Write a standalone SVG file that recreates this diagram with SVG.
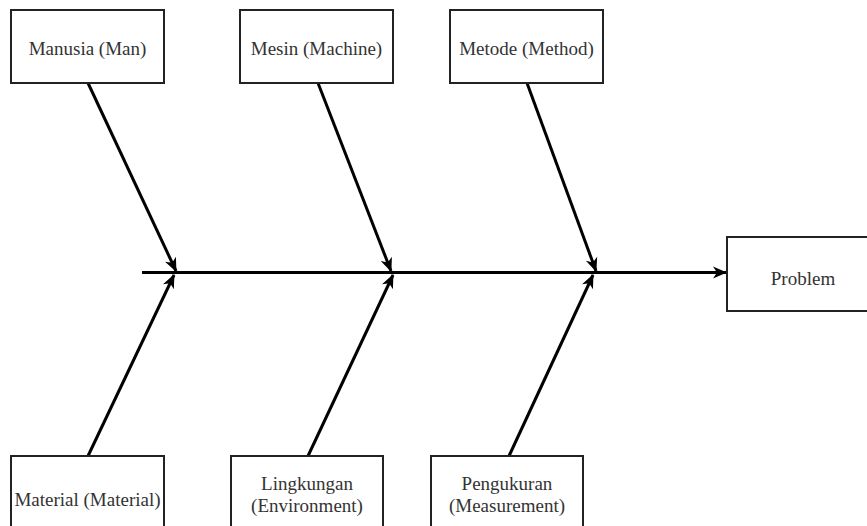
<svg xmlns="http://www.w3.org/2000/svg" width="867" height="526" viewBox="0 0 867 526">
<style>
.box{fill:#fff;stroke:#222;stroke-width:2}
.lbl{font-family:"Liberation Serif","Times New Roman",serif;font-size:19px;fill:#333;text-anchor:middle}
.bone{stroke:#000;stroke-width:3;fill:none;marker-end:url(#ah)}
</style>
<defs>
<marker id="ah" markerUnits="userSpaceOnUse" viewBox="-14 -7 16 14" refX="0" refY="0" markerWidth="16" markerHeight="14" orient="auto">
<path d="M1 0 L-13 -6 L-9 0 L-13 6 Z" fill="#000"/>
</marker>
</defs>
<rect width="867" height="526" fill="#fff"/>
<g id="connectors">
<line class="bone" x1="142" y1="272.5" x2="726" y2="272.5"/>
<line class="bone" x1="88" y1="83" x2="176" y2="271"/>
<line class="bone" x1="318" y1="83" x2="391" y2="271"/>
<line class="bone" x1="527" y1="83" x2="596" y2="271"/>
<line class="bone" x1="88" y1="456" x2="174" y2="275"/>
<line class="bone" x1="308" y1="456" x2="393" y2="275"/>
<line class="bone" x1="509" y1="456" x2="593" y2="275"/>
</g>
<g id="man">
<rect class="box" x="11" y="10" width="153" height="73"/>
<text class="lbl" x="87.5" y="55">Manusia (Man)</text>
</g>
<g id="machine">
<rect class="box" x="240" y="10" width="153" height="73"/>
<text class="lbl" x="316.5" y="55">Mesin (Machine)</text>
</g>
<g id="method">
<rect class="box" x="450" y="10" width="153" height="73"/>
<text class="lbl" x="526.5" y="55">Metode (Method)</text>
</g>
<g id="problem">
<rect class="box" x="727" y="237" width="160" height="74"/>
<text class="lbl" x="803" y="285">Problem</text>
</g>
<g id="material">
<rect class="box" x="11" y="456" width="153" height="76"/>
<text class="lbl" x="87.5" y="506">Material (Material)</text>
</g>
<g id="environment">
<rect class="box" x="231" y="456" width="152" height="76"/>
<text class="lbl" x="307" y="490">Lingkungan</text>
<text class="lbl" x="307" y="512">(Environment)</text>
</g>
<g id="measurement">
<rect class="box" x="431" y="456" width="152" height="76"/>
<text class="lbl" x="507" y="490">Pengukuran</text>
<text class="lbl" x="507" y="512">(Measurement)</text>
</g>
</svg>
